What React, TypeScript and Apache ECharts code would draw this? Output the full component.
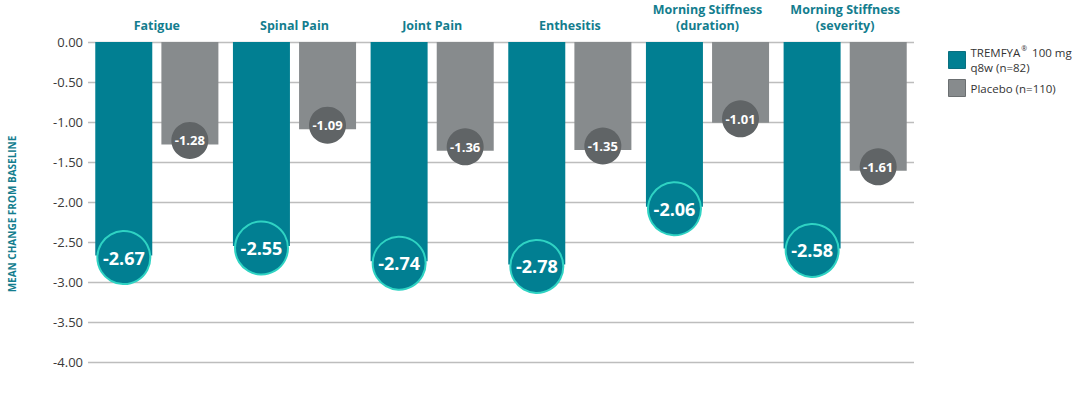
import React, { useEffect, useRef } from "react";
import * as echarts from "echarts";

const categories = [
  "Fatigue",
  "Spinal Pain",
  "Joint Pain",
  "Enthesitis",
  "Morning Stiffness\n(duration)",
  "Morning Stiffness\n(severity)",
];
const tremfya = [-2.67, -2.55, -2.74, -2.78, -2.06, -2.58];
const placebo = [-1.28, -1.09, -1.36, -1.35, -1.01, -1.61];
const yTicks = { min: -4, max: 0, interval: 0.5 };
const seriesNames = ["TREMFYA 100 mg q8w (n=82)", "Placebo (n=110)"];
const yAxisTitle = "MEAN CHANGE FROM BASELINE";

const TEAL = "#017f92";
const GRAY = "#878b8d";
const DARKGRAY = "#606466";
const CYAN = "#2fd3c3";
const FONT = "Open Sans";

export default function App() {
  const ref = useRef<HTMLDivElement>(null);
  useEffect(() => {
    document.body.style.margin = "0";
    const chart = echarts.init(ref.current!, null, { renderer: "svg" });
    chart.setOption({
      animation: false,
      textStyle: { fontFamily: FONT },
      grid: { left: 88, right: 160, top: 42, bottom: 36 },
      legend: {
        orient: "vertical",
        left: 943,
        top: 40,
        itemWidth: 17,
        itemHeight: 17,
        itemGap: 4,
        icon: "rect",
        data: [
          { name: seriesNames[0], itemStyle: { color: TEAL, borderColor: "#0a6f7f", borderWidth: 1 } },
          { name: seriesNames[1], itemStyle: { color: GRAY, borderColor: "#6b6f71", borderWidth: 1 } },
        ],
        formatter: (name: string) =>
          name === seriesNames[0] ? "TREMFYA{sup|\u00AE} 100 mg\nq8w (n=82)" : name,
        textStyle: {
          fontSize: 11.5,
          color: "#333",
          lineHeight: 15,
          fontFamily: FONT,
          rich: {
            sup: { fontSize: 7, verticalAlign: "top", lineHeight: 15, color: "#333", padding: [0, 2, 6, 1] },
          },
        },
      },
      xAxis: {
        type: "category",
        position: "top",
        data: categories,
        axisLine: { show: false },
        axisTick: { show: false },
        axisLabel: {
          color: "#137d8e",
          fontWeight: "bold",
          fontSize: 12.5,
          lineHeight: 16,
          margin: 9,
          interval: 0,
          fontFamily: FONT,
        },
      },
      yAxis: {
        type: "value",
        min: yTicks.min,
        max: yTicks.max,
        interval: yTicks.interval,
        axisLine: { show: false },
        axisTick: { show: false },
        axisLabel: {
          formatter: (v: number) => v.toFixed(2),
          color: "#3a3a3a",
          fontSize: 13,
          margin: 5,
          fontFamily: FONT,
        },
        splitLine: { lineStyle: { color: "#bdbdbd", width: 1.3 } },
      },
      graphic: [
        {
          type: "text",
          x: 12,
          y: 214,
          rotation: Math.PI / 2,
          style: {
            text: yAxisTitle,
            fill: "#137d8e",
            font: `bold 10px "${FONT}"`,
            textAlign: "center",
            textVerticalAlign: "middle",
          },
        },
      ],
      series: [
        {
          name: seriesNames[0],
          type: "bar",
          data: tremfya,
          barWidth: 57,
          barGap: "16%",
          itemStyle: { color: TEAL },
        },
        {
          name: seriesNames[1],
          type: "bar",
          data: placebo,
          barWidth: 57,
          itemStyle: { color: GRAY },
        },
        {
          name: "tremfya-circle",
          type: "scatter",
          data: tremfya,
          symbol: "circle",
          symbolSize: 53,
          symbolOffset: [-33, 2],
          itemStyle: { color: TEAL, borderColor: CYAN, borderWidth: 2, opacity: 1 },
          label: {
            show: true,
            position: "inside",
            formatter: (p: any) => p.value.toFixed(2),
            color: "#fff",
            fontSize: 18,
            fontWeight: "bold",
            fontFamily: FONT,
          },
          z: 5,
          silent: true,
        },
        {
          name: "placebo-circle",
          type: "scatter",
          data: placebo,
          symbol: "circle",
          symbolSize: 37,
          symbolOffset: [33, -4],
          itemStyle: { color: DARKGRAY, opacity: 1 },
          label: {
            show: true,
            position: "inside",
            formatter: (p: any) => p.value.toFixed(2),
            color: "#fff",
            fontSize: 13,
            fontWeight: "bold",
            fontFamily: FONT,
          },
          z: 5,
          silent: true,
        },
      ],
    });
    return () => chart.dispose();
  }, []);
  return <div ref={ref} style={{ width: 1074, height: 398 }} />;
}
